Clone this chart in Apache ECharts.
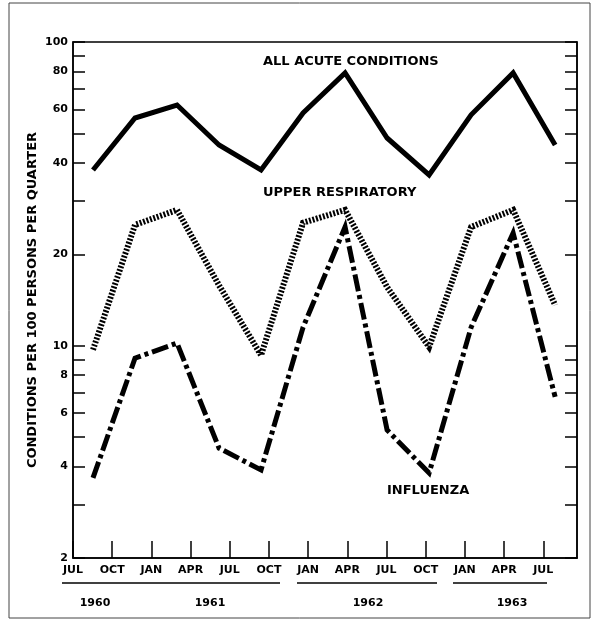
<!DOCTYPE html>
<html><head><meta charset="utf-8">
<script src="https://cdn.jsdelivr.net/npm/echarts@6/dist/echarts.min.js"></script>
<style>html,body{margin:0;padding:0;background:#fff}#c{width:597px;height:621px}</style>
</head><body><div id="c"></div>
<script>
// Quarterly data, Q3 1960 .. Q2 1963
const quarters = ['1960 Q3','1960 Q4','1961 Q1','1961 Q2','1961 Q3','1961 Q4','1962 Q1','1962 Q2','1962 Q3','1962 Q4','1963 Q1','1963 Q2'];
const allAcute = [37.9, 56.2, 62.0, 45.8, 37.9, 58.4, 79.1, 48.3, 36.5, 57.6, 79.1, 45.8];
const upperResp = [9.7, 25.0, 28.0, 15.8, 9.3, 25.4, 28.0, 15.6, 9.9, 24.6, 28.0, 13.6];
const influenza = [3.67, 9.1, 10.2, 4.6, 3.9, 11.5, 24.6, 5.28, 3.81, 11.5, 23.5, 6.78];
const monthTicks = ['JUL','OCT','JAN','APR','JUL','OCT','JAN','APR','JUL','OCT','JAN','APR','JUL'];
const years = ['1960','1961','1962','1963'];
const yLabelValues = [2,4,6,8,10,20,40,60,80,100];
const yTickValues = [2,3,4,5,6,7,8,9,10,20,30,40,50,60,70,80,90,100];
const seriesNames = ['ALL ACUTE CONDITIONS','UPPER RESPIRATORY','INFLUENZA'];

const FONT = 'DejaVu Sans';
const chart = echarts.init(document.getElementById('c'), null, {renderer:'canvas'});
const toPts = arr => arr.map((v,i)=>[i,v]);
const monthIdx = monthTicks.map((m,i)=>i);

const yAxisBase = {
  type:'log', logBase:10, min:2, max:100,
  axisLine:{show:true, onZero:false, lineStyle:{color:'#000', width:1.5}},
  axisTick:{show:true, inside:true, length:12, customValues:yTickValues, lineStyle:{color:'#000', width:1.5}},
  splitLine:{show:false}, minorTick:{show:false}, minorSplitLine:{show:false}
};

const option = {
  animation:false,
  backgroundColor:'#fff',
  grid:{left:73, right:20, top:42, bottom:63, show:true, borderColor:'#000', borderWidth:1.5, containLabel:false},
  xAxis:[
    {type:'value', min:-0.476, max:11.52, show:false, axisLine:{onZero:false}},
    {type:'value', min:0, max:12.86, position:'bottom',
     axisLine:{show:true, onZero:false, lineStyle:{color:'#000', width:1.5}},
     axisTick:{show:true, inside:true, length:17, customValues:monthIdx, lineStyle:{color:'#000', width:1.5}},
     axisLabel:{customValues:monthIdx, formatter:v=>monthTicks[Math.round(v)], color:'#000', fontFamily:FONT, fontWeight:'bold', fontSize:11, margin:7},
     splitLine:{show:false}}
  ],
  yAxis:[
    Object.assign({}, yAxisBase, {position:'left',
      name:'CONDITIONS PER 100 PERSONS PER QUARTER', nameLocation:'middle', nameGap:34, nameMoveOverlap:false,
      nameTextStyle:{color:'#000', fontFamily:FONT, fontWeight:'bold', fontSize:13},
      axisLabel:{customValues:yLabelValues, color:'#000', fontFamily:FONT, fontWeight:'bold', fontSize:11, margin:5}}),
    Object.assign({}, yAxisBase, {position:'right', axisLabel:{show:false}})
  ],
  series:[
    {name:seriesNames[0], type:'line', xAxisIndex:0, yAxisIndex:0, data:toPts(allAcute), symbol:'none',
     lineStyle:{color:'#000', width:5, type:'solid', cap:'butt', join:'miter'}},
    {name:seriesNames[1], type:'line', xAxisIndex:0, yAxisIndex:0, data:toPts(upperResp), symbol:'none',
     lineStyle:{color:'#000', width:6, type:[2,1.6], cap:'butt', join:'miter'}},
    {name:seriesNames[2], type:'line', xAxisIndex:0, yAxisIndex:0, data:toPts(influenza), symbol:'none',
     lineStyle:{color:'#000', width:5, type:[17,4,4,4], cap:'butt', join:'miter'}}
  ],
  graphic:[
    {type:'rect', shape:{x:9, y:3, width:581, height:615}, style:{fill:'none', stroke:'#444', lineWidth:1}, silent:true},
    {type:'text', left:263, top:55, style:{text:seriesNames[0], fill:'#000', font:'bold 13px "DejaVu Sans"'}},
    {type:'text', left:263, top:186, style:{text:seriesNames[1], fill:'#000', font:'bold 13px "DejaVu Sans"'}},
    {type:'text', left:387, top:484, style:{text:seriesNames[2], fill:'#000', font:'bold 13px "DejaVu Sans"'}},
    {type:'line', shape:{x1:62, y1:583, x2:280, y2:583}, style:{stroke:'#000', lineWidth:1.5}},
    {type:'line', shape:{x1:297, y1:583, x2:437, y2:583}, style:{stroke:'#000', lineWidth:1.5}},
    {type:'line', shape:{x1:453, y1:583, x2:547, y2:583}, style:{stroke:'#000', lineWidth:1.5}},
    {type:'text', x:95, y:603, style:{text:years[0], fill:'#000', font:'bold 11px "DejaVu Sans"', textAlign:'center', textVerticalAlign:'middle'}},
    {type:'text', x:210, y:603, style:{text:years[1], fill:'#000', font:'bold 11px "DejaVu Sans"', textAlign:'center', textVerticalAlign:'middle'}},
    {type:'text', x:368, y:603, style:{text:years[2], fill:'#000', font:'bold 11px "DejaVu Sans"', textAlign:'center', textVerticalAlign:'middle'}},
    {type:'text', x:512, y:603, style:{text:years[3], fill:'#000', font:'bold 11px "DejaVu Sans"', textAlign:'center', textVerticalAlign:'middle'}}
  ]
};
chart.setOption(option);
</script></body></html>
